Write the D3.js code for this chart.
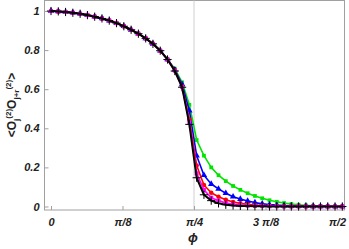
<!DOCTYPE html>
<html>
<head>
<meta charset="utf-8">
<script src="https://cdn.jsdelivr.net/npm/d3@7"></script>
<style>
  body { margin: 0; background: #fff; }
  svg { display: block; }
  .tick text { font-family: "Liberation Sans", Arial, sans-serif; font-size: 11px; font-weight: bold; font-style: italic; fill: #222; }
</style>
</head>
<body>
<div id="chart"></div>
<script>
// phi grid (rad)
let phi = [0, 0.04, 0.08, 0.12, 0.16, 0.2, 0.24, 0.28, 0.32, 0.36, 0.4, 0.44, 0.48, 0.52, 0.56, 0.6,
  0.64, 0.68, 0.72, 0.76, 0.8, 0.84, 0.88, 0.92, 0.96, 1.0, 1.04, 1.08, 1.12, 1.16, 1.2, 1.24, 1.28,
  1.32, 1.36, 1.4, 1.44, 1.48, 1.52, 1.56, 1.6];

let greenVals = [1.0, 0.998, 0.995, 0.991, 0.986, 0.979, 0.971, 0.962, 0.951, 0.938, 0.922, 0.904, 0.884, 0.86, 0.832, 0.797, 0.752,
  0.705, 0.635, 0.52, 0.34, 0.26, 0.2, 0.16, 0.13, 0.105, 0.085, 0.068, 0.054, 0.042, 0.032, 0.024, 0.018, 0.013, 0.009, 0.006, 0.004, 0.003, 0.002, 0.001, 0.001];
let blueVals = [1.0, 0.998, 0.995, 0.991, 0.986, 0.979, 0.971, 0.962, 0.951, 0.938, 0.922, 0.904, 0.884, 0.86, 0.832, 0.797, 0.752,
  0.7, 0.625, 0.49, 0.26, 0.16, 0.115, 0.09, 0.068, 0.05, 0.038, 0.028, 0.02, 0.014, 0.01, 0.007, 0.005, 0.003, 0.002, 0.002, 0.001, 0.001, 0.001, 0, 0];
let redVals = [1.0, 0.998, 0.995, 0.991, 0.986, 0.979, 0.971, 0.962, 0.951, 0.938, 0.922, 0.904, 0.884, 0.86, 0.832, 0.797, 0.752,
  0.697, 0.615, 0.445, 0.21, 0.11, 0.07, 0.05, 0.035, 0.023, 0.016, 0.011, 0.007, 0.005, 0.003, 0.002, 0.001, 0.001, 0.001, 0, 0, 0, 0, 0, 0];
let magentaVals = [1.0, 0.998, 0.995, 0.991, 0.986, 0.979, 0.971, 0.962, 0.951, 0.938, 0.922, 0.904, 0.884, 0.86, 0.832, 0.797, 0.752,
  0.695, 0.612, 0.43, 0.17, 0.085, 0.045, 0.03, 0.018, 0.011, 0.007, 0.004, 0.003, 0.002, 0.001, 0.001, 0, 0, 0, 0, 0, 0, 0, 0, 0];
let blackVals = [1.0, 0.998, 0.995, 0.991, 0.986, 0.979, 0.971, 0.962, 0.951, 0.938, 0.922, 0.904, 0.884, 0.86, 0.832, 0.797, 0.752,
  0.693, 0.61, 0.42, 0.147, 0.06, 0.03, 0.016, 0.009, 0.005, 0.003, 0.002, 0.001, 0.001, 0, 0, 0, 0, 0, 0, 0, 0, 0, 0, 0];

let xTicks = [0, Math.PI / 8, Math.PI / 4, 3 * Math.PI / 8, Math.PI / 2];
let xTickLabels = ["0", "\u03c0/8", "\u03c0/4", "3 \u03c0/8", "\u03c0/2"];
let yTicks = [0, 0.2, 0.4, 0.6, 0.8, 1];
let yTickLabels = ["0", "0.2", "0.4", "0.6", "0.8", "1"];

let series = [
  {vals: greenVals, color: "#00e400", shape: d3.symbolSquare, size: 14, width: 1.6},
  {vals: blueVals, color: "#0000ff", shape: d3.symbolTriangle, size: 18, width: 1.6},
  {vals: redVals, color: "#ff0000", shape: d3.symbolCircle, size: 16, width: 1.6},
  {vals: magentaVals, color: "#ff00ff", shape: d3.symbolSquare, size: 16, width: 1.6},
  {vals: blackVals, color: "#000000", shape: d3.symbolPlus, size: 24, width: 2}
];

const W = 349, H = 249;
const frame = {l: 44, t: 0.5, r: 344.5, b: 210};

let svg = d3.select("#chart").append("svg").attr("width", W).attr("height", H);

let x = d3.scaleLinear().domain([0, Math.PI / 2]).range([51, 337]);
let y = d3.scaleLinear().domain([0, 1]).range([206.5, 11]);

// frame
svg.append("rect")
  .attr("x", frame.l + 0.5).attr("y", frame.t)
  .attr("width", frame.r - frame.l - 0.5).attr("height", frame.b - frame.t)
  .attr("fill", "none").attr("stroke", "#a0a0a0").attr("stroke-width", 1);

// pi/4 guide
svg.append("line")
  .attr("x1", x(Math.PI / 4)).attr("x2", x(Math.PI / 4))
  .attr("y1", frame.t).attr("y2", frame.b)
  .attr("stroke", "#d0d0d0").attr("stroke-width", 1);

let xAxis = d3.axisBottom(x).tickValues(xTicks)
  .tickFormat((d, i) => xTickLabels[i]).tickSize(-4).tickPadding(8);
let gx = svg.append("g").attr("transform", `translate(0,${frame.b})`).call(xAxis);
gx.select(".domain").remove();
gx.selectAll(".tick line").attr("stroke", "#a0a0a0");

let yAxis = d3.axisLeft(y).tickValues(yTicks)
  .tickFormat((d, i) => yTickLabels[i]).tickSize(-4).tickPadding(5);
let gy = svg.append("g").attr("transform", `translate(${frame.l + 0.5},0)`).call(yAxis);
gy.select(".domain").remove();
gy.selectAll(".tick line").attr("stroke", "#a0a0a0");

// curves
let line = d3.line().x((d, i) => x(phi[i])).y(d => y(d));
let plot = svg.append("g");
series.forEach(s => {
  let g = plot.append("g");
  g.append("path").datum(s.vals)
    .attr("d", line).attr("fill", "none")
    .attr("stroke", s.color).attr("stroke-width", s.width)
    .attr("stroke-linejoin", "round");
  let sym = d3.symbol().type(s.shape).size(s.size);
  let plus = s.shape === d3.symbolPlus;
  g.selectAll("path.pt").data(s.vals).join("path")
    .attr("class", "pt")
    .attr("d", sym)
    .attr("transform", (d, i) => `translate(${x(phi[i])},${y(d)})`)
    .attr("fill", plus ? "none" : s.color)
    .attr("stroke", plus ? s.color : "none")
    .attr("stroke-width", plus ? 1 : 0);
});

// axis titles
svg.append("text")
  .attr("x", x(Math.PI / 4) - 1).attr("y", 242)
  .attr("text-anchor", "middle")
  .attr("font-family", "Liberation Sans, Arial, sans-serif")
  .attr("font-size", 13).attr("font-weight", "bold").attr("font-style", "italic")
  .attr("fill", "#222")
  .text("\u03d5");

let yt = svg.append("text")
  .attr("transform", "translate(16,105) rotate(-90)")
  .attr("text-anchor", "middle")
  .attr("font-family", "Liberation Sans, Arial, sans-serif")
  .attr("font-size", 12).attr("font-weight", "bold")
  .attr("fill", "#222");
yt.append("tspan").text("<O");
yt.append("tspan").attr("font-size", 8).attr("dy", 3).text("j");
yt.append("tspan").attr("font-size", 8).attr("dy", -8).text("(2)");
yt.append("tspan").attr("dy", 5).text("O");
yt.append("tspan").attr("font-size", 8).attr("dy", 3).text("j+r");
yt.append("tspan").attr("font-size", 8).attr("dy", -8).text("(2)");
yt.append("tspan").attr("dy", 5).text(">");
</script>
</body>
</html>
